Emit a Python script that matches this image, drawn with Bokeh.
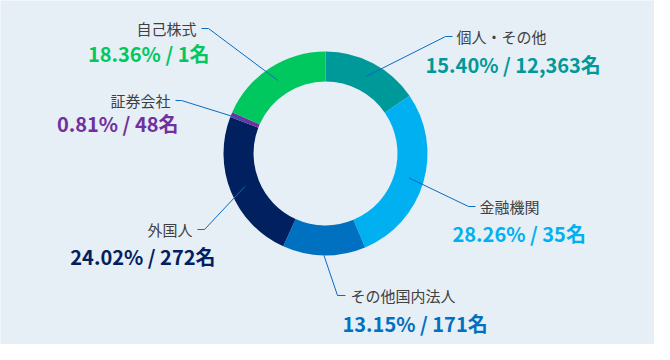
import math
from bokeh.plotting import figure
from bokeh.models import Range1d, ColumnDataSource
from bokeh.core.properties import value
from bokeh.embed import file_html
from bokeh.resources import INLINE

# ---- data ----
categories = ["個人・その他", "金融機関", "その他国内法人", "外国人", "証券会社", "自己株式"]
shares = [15.40, 28.26, 13.15, 24.02, 0.81, 18.36]
holders = ["12,363", "35", "171", "272", "48", "1"]
colors = ["#009999", "#00b0f0", "#0070c0", "#002060", "#7030a0", "#00c85f"]

# ---- layout (image pixel coords) ----
CX, CY = 333, 161          # donut centre in image px
R_OUT, R_IN = 102, 72
# cat_x, cat_y, val_x, val_y, align, elbow_x, end_x, leader_start_radius
label_layout = [
    (464, 44, 433, 72, "left", 453, 460, 87),
    (487, 214, 460, 241, "left", 476, 483, 87),
    (358, 303, 350, 331, "left", 345, 353, 102),
    (200, 237, 223, 264, "right", 212, 205, 87),
    (178, 108, 186, 131, "right", 189, 183, 87),
    (204, 36, 217, 61, "right", 216, 209, 87),
]

W, H = 654, 344
BG = "#e6eef6"


def dx(x):
    return x - CX


def dy(y):
    return CY - y


p = figure(width=W, height=H, output_backend="svg", toolbar_location=None,
           x_range=Range1d(dx(8), dx(8 + W)), y_range=Range1d(dy(8 + H), dy(8)),
           x_axis_type=None, y_axis_type=None, min_border=0)
p.grid.visible = False
p.outline_line_color = None
p.background_fill_color = BG
p.border_fill_color = BG

total = sum(shares)
starts, ends, mids = [], [], []
cum = 0.0
for s in shares:
    f0 = cum / total
    cum += s
    f1 = cum / total
    starts.append(math.pi / 2 - 2 * math.pi * f0)
    ends.append(math.pi / 2 - 2 * math.pi * f1)
    mids.append(math.pi / 2 - 2 * math.pi * (f0 + f1) / 2)

src = ColumnDataSource(dict(start=starts, end=ends, color=colors))
p.annular_wedge(x=0, y=0, inner_radius=R_IN, outer_radius=R_OUT,
                start_angle="start", end_angle="end", direction="clock",
                fill_color="color", line_color=None, source=src)

# leader lines
xs, ys = [], []
for m, lay in zip(mids, label_layout):
    cat_x, cat_y, val_x, val_y, align, ex, endx, rs = lay
    sx, sy = rs * math.cos(m), rs * math.sin(m)
    xs.append([sx, dx(ex), dx(endx)])
    ys.append([sy, dy(cat_y), dy(cat_y)])
p.multi_line(xs=xs, ys=ys, line_color="#0a6cc4", line_width=1)

FONT = "Noto Sans CJK JP"
for cat, s, h, col, lay in zip(categories, shares, holders, colors, label_layout):
    cat_x, cat_y, val_x, val_y, align, ex, endx, rs = lay
    p.text(x=[dx(cat_x)], y=[dy(cat_y)], text=[cat], text_align=align,
           text_baseline="middle", text_font=value(FONT), text_font_size="15px",
           text_color="#404040")
    p.text(x=[dx(val_x)], y=[dy(val_y)], text=[f"{s:.2f}% / {h}名"], text_align=align,
           text_baseline="middle", text_font=value(FONT), text_font_size="20px",
           text_font_style="bold", text_color=col)

open("out.html", "w").write(file_html(p, INLINE))
